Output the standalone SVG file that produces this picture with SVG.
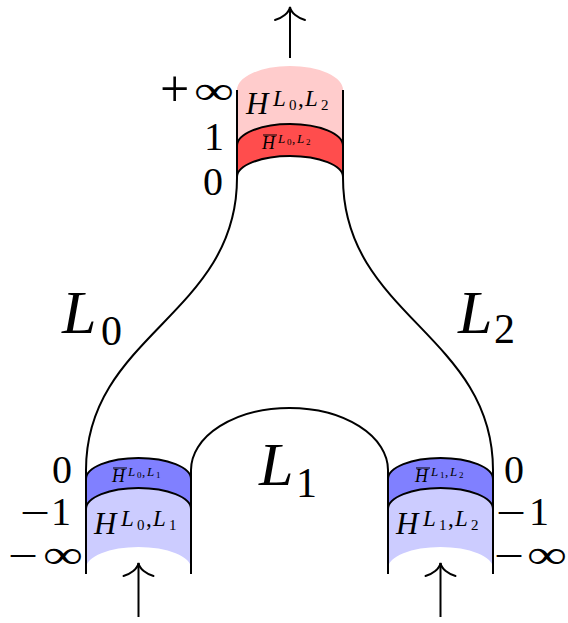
<svg xmlns="http://www.w3.org/2000/svg" width="568" height="623" viewBox="0 0 568 623">
<style>
.s{stroke:#000;stroke-width:2;fill:none}
.t{font-family:"Liberation Serif","Times New Roman",serif;fill:#000}
.i{font-style:italic}
.pink{fill:#FFCCCC}
.red{fill:#FF4D4D}
.blue{fill:#8080FF}
.lblue{fill:#CCCCFF}
.bar{stroke:#000;stroke-width:1}
</style>
<defs>
<marker id="ah" markerUnits="userSpaceOnUse" markerWidth="40" markerHeight="40" viewBox="-20 -20 40 40" refX="0" refY="0" orient="auto" overflow="visible">
<path d="M-13,-15 C-11,-8 -6,-1 0,0 C-6,1 -11,8 -13,15" fill="none" stroke="#000" stroke-width="2" stroke-linecap="round"/>
</marker>
</defs>

<g id="top-strip">
<path class="pink" d="M237,90 A53,24 0 0 1 343,90 L343,146 A53,22 0 0 0 237,146 Z"/>
<path class="red" d="M237,146 A53,22 0 0 1 343,146 L343,177 A53,21 0 0 0 237,177 Z"/>
<path class="s" d="M237,146 A53,22 0 0 1 343,146"/>
<path class="s" d="M237,177 A53,21 0 0 1 343,177"/>
<text class="t" y="114"><tspan class="i" x="246" font-size="31">H</tspan><tspan class="i" x="273" y="106" font-size="23">L</tspan><tspan x="289" y="110" font-size="15">0</tspan><tspan x="298" y="106" font-size="23">,</tspan><tspan class="i" x="305" y="106" font-size="23">L</tspan><tspan x="321" y="110" font-size="15">2</tspan></text>
<line class="bar" x1="263" y1="135" x2="277" y2="135"/>
<text class="t" y="149"><tspan class="i" x="262" font-size="18">H</tspan><tspan class="i" x="278" y="143" font-size="13">L</tspan><tspan x="287" y="145" font-size="9">0</tspan><tspan x="292" y="143" font-size="13">,</tspan><tspan class="i" x="297" y="143" font-size="13">L</tspan><tspan x="306" y="145" font-size="9">2</tspan></text>
<text class="t" x="160" y="106" font-size="52">+</text>
<text class="t" x="194" y="104" font-size="40" textLength="40" lengthAdjust="spacingAndGlyphs">∞</text>
<text class="t" x="204" y="150" font-size="40">1</text>
<text class="t" x="203" y="195" font-size="40">0</text>
</g>

<g id="left-strip">
<path class="blue" d="M86,479 A52.5,21 0 0 1 191,479 L191,509 A52.5,21 0 0 0 86,509 Z"/>
<path class="lblue" d="M86,509 A52.5,21 0 0 1 191,509 L191,568 A52.5,21 0 0 0 86,568 Z"/>
<path class="s" d="M86,479 A52.5,21 0 0 1 191,479"/>
<path class="s" d="M86,509 A52.5,21 0 0 1 191,509"/>
<text class="t" y="534"><tspan class="i" x="94" font-size="31">H</tspan><tspan class="i" x="121" y="526" font-size="23">L</tspan><tspan x="137" y="530" font-size="15">0</tspan><tspan x="146" y="526" font-size="23">,</tspan><tspan class="i" x="153" y="526" font-size="23">L</tspan><tspan x="169" y="530" font-size="15">1</tspan></text>
<line class="bar" x1="113" y1="468" x2="127" y2="468"/>
<text class="t" y="482"><tspan class="i" x="112" font-size="18">H</tspan><tspan class="i" x="128" y="476" font-size="13">L</tspan><tspan x="137" y="478" font-size="9">0</tspan><tspan x="142" y="476" font-size="13">,</tspan><tspan class="i" x="147" y="476" font-size="13">L</tspan><tspan x="156" y="478" font-size="9">1</tspan></text>
<text class="t" x="52" y="483" font-size="40">0</text>
<text class="t" x="20" y="526" font-size="40" textLength="30" lengthAdjust="spacingAndGlyphs">−</text>
<text class="t" x="51" y="525" font-size="40">1</text>
<text class="t" x="8" y="569" font-size="40" textLength="30" lengthAdjust="spacingAndGlyphs">−</text>
<text class="t" x="43" y="568" font-size="40" textLength="40" lengthAdjust="spacingAndGlyphs">∞</text>
</g>

<g id="right-strip">
<path class="blue" d="M388,479 A52.5,21 0 0 1 493,479 L493,509 A52.5,21 0 0 0 388,509 Z"/>
<path class="lblue" d="M388,509 A52.5,21 0 0 1 493,509 L493,568 A52.5,21 0 0 0 388,568 Z"/>
<path class="s" d="M388,479 A52.5,21 0 0 1 493,479"/>
<path class="s" d="M388,509 A52.5,21 0 0 1 493,509"/>
<text class="t" y="534"><tspan class="i" x="396" font-size="31">H</tspan><tspan class="i" x="423" y="526" font-size="23">L</tspan><tspan x="439" y="530" font-size="15">1</tspan><tspan x="448" y="526" font-size="23">,</tspan><tspan class="i" x="455" y="526" font-size="23">L</tspan><tspan x="471" y="530" font-size="15">2</tspan></text>
<line class="bar" x1="416" y1="468" x2="430" y2="468"/>
<text class="t" y="482"><tspan class="i" x="415" font-size="18">H</tspan><tspan class="i" x="431" y="476" font-size="13">L</tspan><tspan x="440" y="478" font-size="9">1</tspan><tspan x="445" y="476" font-size="13">,</tspan><tspan class="i" x="450" y="476" font-size="13">L</tspan><tspan x="459" y="478" font-size="9">2</tspan></text>
<text class="t" x="504" y="483" font-size="40">0</text>
<text class="t" x="496" y="526" font-size="40" textLength="30" lengthAdjust="spacingAndGlyphs">−</text>
<text class="t" x="529" y="525" font-size="40">1</text>
<text class="t" x="494" y="569" font-size="40" textLength="30" lengthAdjust="spacingAndGlyphs">−</text>
<text class="t" x="527" y="568" font-size="40" textLength="40" lengthAdjust="spacingAndGlyphs">∞</text>
</g>

<g id="connectors">
<path id="L0" class="s" d="M237,90 V178 C237,315 86,335 86,470 V574"/>
<path id="L2" class="s" d="M343,90 V178 C343,315 493,335 493,470 V574"/>
<path id="L1" class="s" d="M191,574 V470 A98.5,62 0 0 1 388,470 V574"/>
<path class="s" d="M290,58 V7" marker-end="url(#ah)"/>
<path class="s" d="M138.5,617 V563" marker-end="url(#ah)"/>
<path class="s" d="M440.5,617 V563" marker-end="url(#ah)"/>
</g>

<g id="labels">
<text class="t" y="333"><tspan class="i" x="62" font-size="62">L</tspan><tspan x="101" y="345" font-size="42">0</tspan></text>
<text class="t" y="333"><tspan class="i" x="458" font-size="62">L</tspan><tspan x="494" y="343" font-size="42">2</tspan></text>
<text class="t" y="485"><tspan class="i" x="259" font-size="62">L</tspan><tspan x="296" y="497" font-size="42">1</tspan></text>
</g>
</svg>
